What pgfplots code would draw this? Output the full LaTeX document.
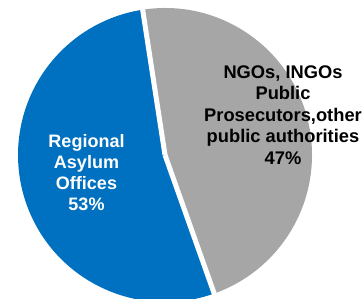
\documentclass[border=0pt]{standalone}
\usepackage{pgfplots}
\pgfplotsset{compat=1.18}
\usepackage{fontspec}
\setmainfont{Liberation Sans}
\definecolor{pieblue}{RGB}{0,112,192}
\definecolor{piegray}{RGB}{166,166,166}
\begin{document}
\begin{tikzpicture}
% values (percent)
\pgfmathsetmacro{\vNGO}{47}
\pgfmathsetmacro{\vRAO}{53}
\pgfmathsetmacro{\start}{98.75}
\pgfmathsetmacro{\mid}{\start-3.6*\vNGO}
\pgfmathsetmacro{\fin}{\mid-3.6*\vRAO}
\begin{axis}[scale only axis, width=364pt, height=298pt,
  xmin=0, xmax=364, ymin=0, ymax=298, hide axis, clip=true]
\fill[piegray] (axis cs:165,143) -- ++(\start:147pt) arc[start angle=\start, end angle=\mid, radius=147pt] -- cycle;
\fill[pieblue] (axis cs:165,143) -- ++(\mid:147pt) arc[start angle=\mid, end angle=\fin, radius=147pt] -- cycle;
\draw[white, line width=5pt] (axis cs:165,143) -- ++(\start:152pt);
\draw[white, line width=5pt] (axis cs:165,143) -- ++(\mid:152pt);
\node[white, font=\bfseries\fontsize{18}{21}\selectfont, align=center] at (axis cs:86.5,125) {Regional\\Asylum\\Offices\\53\%};
\node[black, font=\bfseries\fontsize{18.3}{21.5}\selectfont, align=center] at (axis cs:283,183) {NGOs, INGOs\\Public\\Prosecutors,other\\public authorities\\47\%};
\end{axis}
\pgfresetboundingbox
\useasboundingbox (current axis.south west) rectangle (current axis.north east);
\end{tikzpicture}
\end{document}
